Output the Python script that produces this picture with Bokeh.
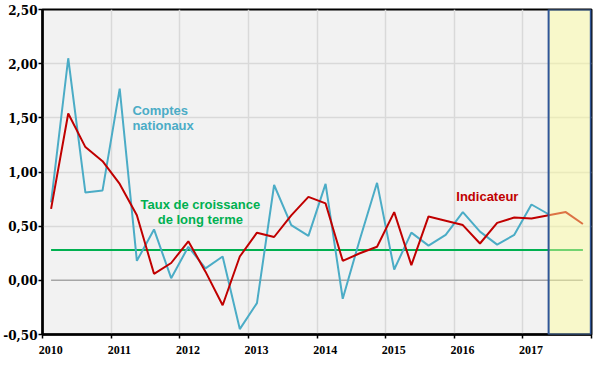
from bokeh.plotting import figure
from bokeh.models import (Range1d, FixedTicker, CustomJSTickFormatter, BoxAnnotation, Label,
                          LinearAxis, CustomLabelingPolicy)
from bokeh.embed import file_html
from bokeh.resources import INLINE

# ---- data (quarterly growth, %) ----
years = [2010, 2011, 2012, 2013, 2014, 2015, 2016, 2017]
year_labels = ["2010", "2011", "2012", "2013", "2014", "2015", "2016", "2017"]
y_ticks = [-0.5, 0.0, 0.5, 1.0, 1.5, 2.0, 2.5]

comptes_nationaux = [0.72, 2.05, 0.81, 0.83, 1.77, 0.18, 0.47, 0.02,
                     0.31, 0.11, 0.22, -0.45, -0.21, 0.88, 0.51, 0.41,
                     0.89, -0.17, 0.38, 0.90, 0.10, 0.44, 0.32, 0.42,
                     0.63, 0.45, 0.33, 0.42, 0.70, 0.61]
indicateur = [0.66, 1.54, 1.23, 1.10, 0.89, 0.60, 0.06, 0.16,
              0.36, 0.08, -0.23, 0.22, 0.44, 0.40, 0.60, 0.77,
              0.71, 0.18, 0.25, 0.31, 0.63, 0.14, 0.59, 0.55,
              0.51, 0.34, 0.53, 0.58, 0.57, 0.60, 0.63, 0.52]
taux_long_terme = 0.28

def quarter_pos(n):
    return [years[0] + (i + 0.5) / 4 for i in range(n)]

x_cn = quarter_pos(len(comptes_nationaux))
x_ind = quarter_pos(len(indicateur))

p = figure(width=590, height=362, output_backend="svg", toolbar_location=None,
           x_range=Range1d(2010, 2018), y_range=Range1d(-0.5, 2.5),
           frame_width=549, frame_height=325,
           min_border_left=39, min_border_right=3, min_border_top=9, min_border_bottom=24)

p.background_fill_color = "#f2f2f2"
p.border_fill_color = "white"
p.outline_line_color = "black"
p.outline_line_width = 2

# grids
p.xgrid.ticker = FixedTicker(ticks=years + [2018])
p.ygrid.ticker = FixedTicker(ticks=[t for t in y_ticks if t != 0.0])
p.xgrid.grid_line_color = "#d9d9d9"
p.ygrid.grid_line_color = "#d9d9d9"
p.xgrid.grid_line_width = 1.5
p.ygrid.grid_line_width = 1.5

# axes: tick marks at the years (no labels), labels slightly to the right (second axis)
p.xaxis.ticker = FixedTicker(ticks=years + [2018])
p.xaxis.major_label_policy = CustomLabelingPolicy(code="""
    for (const i of indices) { indices.unset(i) }
    return indices
""")
p.xaxis.major_label_standoff = 0
p.yaxis.ticker = FixedTicker(ticks=y_ticks)
p.yaxis.formatter = CustomJSTickFormatter(code="return tick.toFixed(2).replace('.', ',');")
for ax in (p.xaxis[0], p.yaxis[0]):
    ax.axis_line_color = "black"
    ax.axis_line_width = 2.5
    ax.major_tick_line_color = "black"
    ax.major_tick_line_width = 1.5
    ax.major_tick_out = 4
    ax.major_tick_in = 0
    ax.minor_tick_line_color = None
    ax.major_label_text_font_style = "bold"
    ax.major_label_text_color = "black"
p.xaxis.major_label_text_font_size = "12px"
p.yaxis.major_label_text_font = "DejaVu Serif"
p.yaxis.major_label_text_font_size = "12px"
p.yaxis.major_label_standoff = 1

label_shift = 0.12
label_ticks = [y + label_shift for y in years]
lab_axis = LinearAxis(ticker=FixedTicker(ticks=label_ticks),
                      axis_line_color=None, major_tick_line_color=None, minor_tick_line_color=None,
                      major_label_standoff=-11, major_label_text_font="Liberation Serif",
                      major_label_text_font_style="bold", major_label_text_font_size="12px",
                      major_label_text_color="black")
lab_axis.formatter = CustomJSTickFormatter(code="return Math.floor(tick).toString();")
p.add_layout(lab_axis, "below")

# zero line and long-term growth
p.line([x_ind[0], x_ind[-1]], [0, 0], line_color="#a6a6a6", line_width=1.5)
p.line([x_ind[0], x_ind[-1]], [taux_long_terme, taux_long_terme], line_color="#00b050", line_width=2)

# series
p.line(x_cn, comptes_nationaux, line_color="#4bacc6", line_width=2)
p.line(x_ind, indicateur, line_color="#c00000", line_width=2)

# forecast box
box = BoxAnnotation(left=x_cn[-1], right=2017.99, fill_color="#ffff99", fill_alpha=0.45,
                    line_color="#2f5597", line_width=2, line_alpha=1)
p.add_layout(box)

def lab(x, y, t, color, align="left"):
    p.add_layout(Label(x=x, y=y, text=t, text_color=color, text_font="Liberation Sans",
                       text_font_style="bold", text_font_size="13px",
                       text_align=align, text_baseline="middle"))

lab(2011.31, 1.57, "Comptes", "#4bacc6")
lab(2011.31, 1.43, "nationaux", "#4bacc6")
lab(2012.30, 0.70, "Taux de croissance", "#00b050", "center")
lab(2012.30, 0.56, "de long terme", "#00b050", "center")
lab(2016.03, 0.775, "Indicateur", "#c00000")

open("out.html", "w").write(file_html(p, INLINE))
